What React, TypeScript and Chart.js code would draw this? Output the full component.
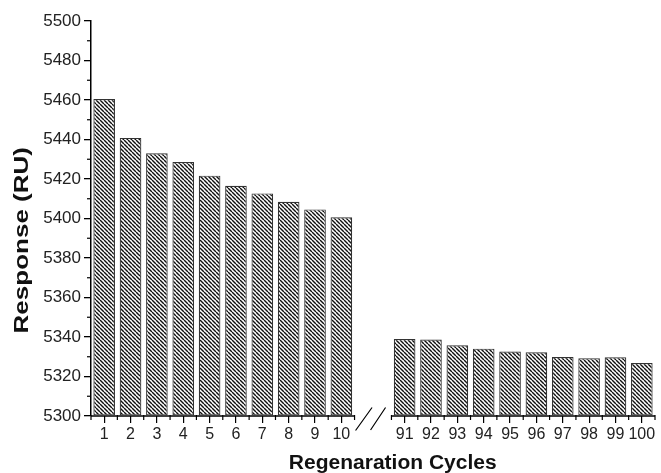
import React, { useEffect, useRef } from "react";
import { Chart, registerables } from "chart.js";

Chart.register(...registerables);

// ---- data ----
const cyclesA = [1, 2, 3, 4, 5, 6, 7, 8, 9, 10];
const valuesA = [5460.5, 5440.8, 5433.0, 5428.6, 5421.7, 5416.6, 5412.7, 5408.5, 5404.6, 5400.6];
const cyclesB = [91, 92, 93, 94, 95, 96, 97, 98, 99, 100];
const valuesB = [5339.0, 5338.7, 5335.8, 5334.1, 5332.6, 5332.3, 5329.9, 5329.2, 5329.7, 5326.8];
const yMin = 5300;
const yMax = 5500;
const yStep = 20;
const yMinorStep = 10;
const xTitle = "Regenaration Cycles";
const yTitle = "Response (RU)";

// axis-break width, in category units
const GAP = 1.4;

const posA = cyclesA.map((_, i) => i + 1);
const posB = cyclesB.map((_, j) => cyclesA.length + GAP + j + 1);
const allPos = [...posA, ...posB];
const allLabels = [...cyclesA, ...cyclesB].map(String);
const xMinV = 0.5;
const xBreakL = cyclesA.length + 0.5;
const xBreakR = xBreakL + GAP;
const xMaxV = xBreakR + cyclesB.length;

const FONT = "'Liberation Sans', Arial, sans-serif";

function makeHatch(): CanvasPattern | string {
  const s = 4;
  const c = document.createElement("canvas");
  c.width = s;
  c.height = s;
  const g = c.getContext("2d");
  if (!g) return "#888";
  g.fillStyle = "#fff";
  g.fillRect(0, 0, s, s);
  g.strokeStyle = "#111";
  g.lineWidth = 1.4;
  for (const k of [-s, 0, s]) {
    g.beginPath();
    g.moveTo(k, 0);
    g.lineTo(k + s, s);
    g.stroke();
  }
  const p = g.createPattern(c, "repeat");
  return p || "#888";
}

const decorPlugin = {
  id: "decor",
  afterDraw(chart: any) {
    const ctx: CanvasRenderingContext2D = chart.ctx;
    const xs = chart.scales.x;
    const ys = chart.scales.y;
    const area = chart.chartArea;
    const bottom = area.bottom;
    ctx.save();
    ctx.strokeStyle = "#000";
    ctx.lineWidth = 1.5;
    // broken x axis line
    const segs = [
      [xMinV, xBreakL],
      [xBreakR, xMaxV],
    ];
    for (const [a, b] of segs) {
      ctx.beginPath();
      ctx.moveTo(xs.getPixelForValue(a), bottom);
      ctx.lineTo(xs.getPixelForValue(b), bottom);
      ctx.stroke();
    }
    // minor x ticks at category boundaries
    ctx.lineWidth = 1.2;
    const bounds: number[] = [];
    for (let i = 0; i <= cyclesA.length; i++) bounds.push(xMinV + i);
    for (let j = 0; j <= cyclesB.length; j++) bounds.push(xBreakR + j);
    for (const v of bounds) {
      const px = xs.getPixelForValue(v);
      ctx.beginPath();
      ctx.moveTo(px, bottom - 1);
      ctx.lineTo(px, bottom + 4);
      ctx.stroke();
    }
    // break marks
    const bx = xs.getPixelForValue(xBreakL);
    ctx.lineWidth = 1.2;
    ctx.beginPath();
    ctx.moveTo(bx + 1, bottom + 14.5);
    ctx.lineTo(bx + 17.5, bottom - 8.5);
    ctx.moveTo(bx + 16, bottom + 14);
    ctx.lineTo(bx + 31, bottom - 8.5);
    ctx.stroke();
    // minor y ticks
    ctx.lineWidth = 1.2;
    for (let v = yMin + yMinorStep; v < yMax; v += yStep) {
      const py = ys.getPixelForValue(v);
      ctx.beginPath();
      ctx.moveTo(area.left, py);
      ctx.lineTo(area.left - 4, py);
      ctx.stroke();
    }
    // titles
    ctx.fillStyle = "#111";
    ctx.font = `bold 20px ${FONT}`;
    ctx.textAlign = "center";
    ctx.textBaseline = "alphabetic";
    const tx = area.left + (area.right - area.left) * 0.535;
    ctx.save();
    ctx.translate(tx, bottom + 53);
    ctx.scale(1.05, 1);
    ctx.fillText(xTitle, 0, 0);
    ctx.restore();

    ctx.save();
    const cy = area.top + (area.bottom - area.top) * 0.555;
    ctx.translate(28, cy);
    ctx.rotate(-Math.PI / 2);
    ctx.scale(1.3, 1);
    ctx.fillText(yTitle, 0, 0);
    ctx.restore();

    ctx.restore();
  },
};

export default function App() {
  const ref = useRef<HTMLCanvasElement | null>(null);

  useEffect(() => {
    document.body.style.margin = "0";
    const canvas = ref.current;
    if (!canvas) return;
    const hatch = makeHatch();
    const data = [
      ...posA.map((x, i) => ({ x, y: valuesA[i] })),
      ...posB.map((x, j) => ({ x, y: valuesB[j] })),
    ];
    const chart = new Chart(canvas, {
      type: "bar",
      data: {
        datasets: [
          {
            data,
            backgroundColor: hatch as any,
            borderColor: "#333",
            borderWidth: 1.2,
            borderSkipped: false,
            base: yMin,
            barPercentage: 0.82,
            categoryPercentage: 1,
          } as any,
        ],
      },
      options: {
        responsive: false,
        animation: false,
        devicePixelRatio: 1,
        layout: { padding: { top: 21, right: 6, left: 0, bottom: 0 } },
        plugins: {
          legend: { display: false },
          tooltip: { enabled: false },
        },
        scales: {
          x: {
            type: "linear",
            min: xMinV,
            max: xMaxV,
            offset: false,
            afterBuildTicks: (scale: any) => {
              scale.ticks = allPos.map((v) => ({ value: v }));
            },
            afterFit: (scale: any) => {
              scale.height = 57;
              scale.paddingLeft = 0;
              scale.paddingRight = 0;
            },
            ticks: {
              autoSkip: false,
              maxRotation: 0,
              minRotation: 0,
              padding: 2,
              color: "#222",
              font: { family: FONT, size: 16 },
              callback: (value: any) => {
                const idx = allPos.findIndex((p) => Math.abs(p - Number(value)) < 1e-6);
                return idx >= 0 ? allLabels[idx] : "";
              },
            },
            grid: {
              display: true,
              offset: false,
              drawOnChartArea: false,
              drawTicks: true,
              tickLength: 7,
              color: "#000",
              lineWidth: 1.2,
            },
            border: { display: false },
          },
          y: {
            type: "linear",
            min: yMin,
            max: yMax,
            afterFit: (scale: any) => {
              scale.width = 91;
              scale.paddingTop = 0;
              scale.paddingBottom = 0;
            },
            ticks: {
              stepSize: yStep,
              padding: 3,
              color: "#222",
              font: { family: FONT, size: 17 },
              callback: (value: any) => String(value),
            },
            grid: {
              display: true,
              drawOnChartArea: false,
              drawTicks: true,
              tickLength: 7,
              color: "#000",
              lineWidth: 1.3,
            },
            border: { display: true, color: "#000", width: 1.5 },
          },
        },
      },
      plugins: [decorPlugin],
    } as any);
    return () => chart.destroy();
  }, []);

  return (
    <div
      style={{
        position: "fixed",
        left: 0,
        top: 0,
        width: 661,
        height: 473,
        background: "#fff",
      }}
    >
      <canvas ref={ref} width={661} height={473} style={{ display: "block" }} />
    </div>
  );
}
